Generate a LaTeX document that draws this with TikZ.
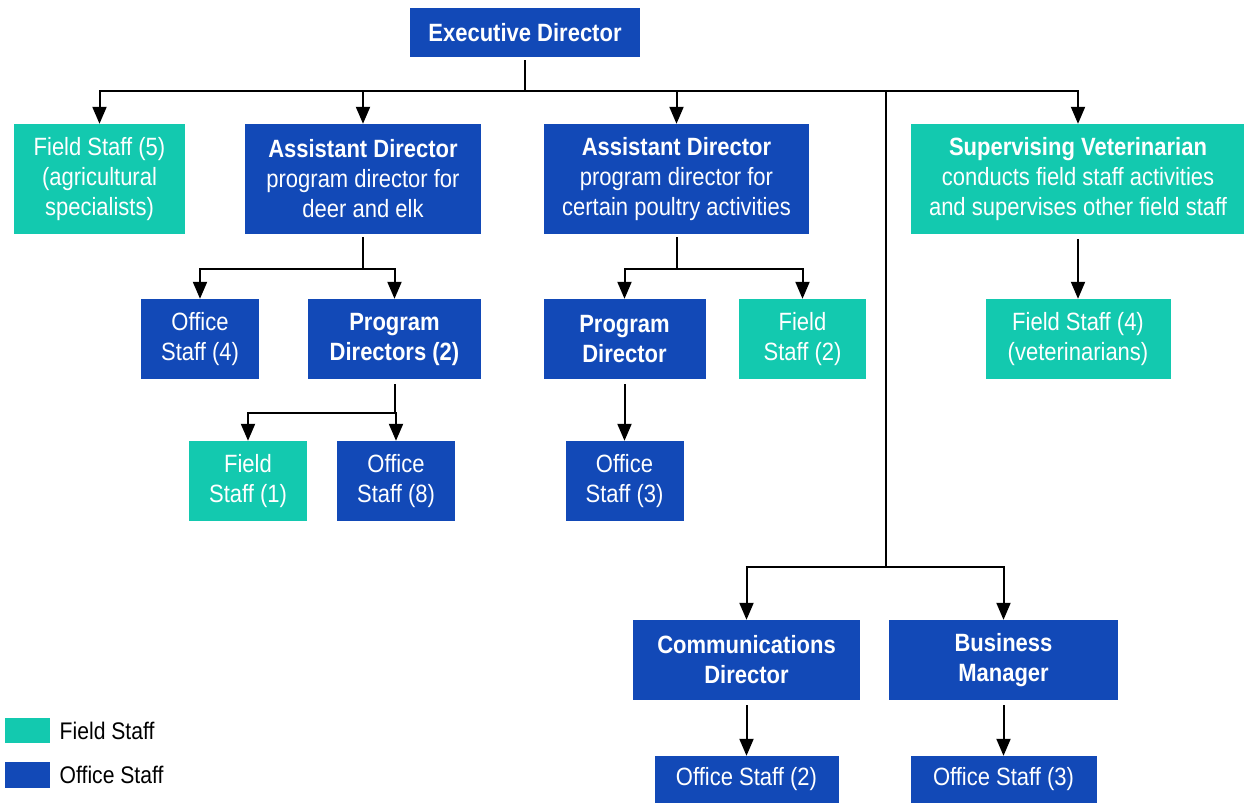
\documentclass[tikz,border=0pt]{standalone}
\usepackage{fontspec}
\setmainfont{Liberation Sans}[FakeStretch=0.88]
\usepackage{tikz}
\usetikzlibrary{positioning, arrows.meta, calc}

\definecolor{officeblue}{RGB}{18,73,183}
\definecolor{fieldteal}{RGB}{19,201,175}

\begin{document}
\begin{tikzpicture}[
    x=1pt, y=-1pt,
    % Office staff boxes (dark blue)
    officebox/.style={
        fill=officeblue,
        text=white,
        align=center,
        font=\fontsize{25}{30}\selectfont,
        inner sep=0pt,
        rectangle
    },
    % Field staff boxes (teal)
    fieldbox/.style={
        officebox,
        fill=fieldteal
    },
    % Plain connector lines
    link/.style={
        draw=black,
        line width=2pt
    },
    % Connector with a filled arrow tip
    arrow/.style={
        link,
        -{Triangle[width=14pt,length=17pt]}
    },
    legendtext/.style={
        font=\fontsize{24}{28}\selectfont,
        anchor=west
    }
]
\useasboundingbox (0,0) rectangle (1244,803);

% --- LEVEL 0: Executive Director ---
\node[officebox, minimum width=230, minimum height=49] (exec) at (525,32.5)
    {\textbf{Executive Director}};

% --- LEVEL 1 ---
\node[fieldbox, minimum width=171, minimum height=110] (fs5) at (99.5,179)
    {Field Staff (5)\\(agricultural\\specialists)};
\node[officebox, minimum width=236, minimum height=110] (addeer) at (363,179)
    {\textbf{Assistant Director}\\program director for\\deer and elk};
\node[officebox, minimum width=265, minimum height=110] (adpoultry) at (676.5,179)
    {\textbf{Assistant Director}\\program director for\\certain poultry activities};
\node[fieldbox, minimum width=334, minimum height=110] (vet) at (1078,179)
    {\textbf{Supervising Veterinarian}\\conducts field staff activities\\and supervises other field staff};

% --- LEVEL 2 ---
\node[officebox, minimum width=118, minimum height=80] (os4) at (200,339)
    {Office\\Staff (4)};
\node[officebox, minimum width=173, minimum height=80] (pd2) at (394.5,339)
    {\textbf{Program}\\\textbf{Directors (2)}};
\node[officebox, minimum width=162, minimum height=80] (pd) at (624.5,339)
    {\textbf{Program}\\\textbf{Director}};
\node[fieldbox, minimum width=127, minimum height=80] (fs2) at (802.5,339)
    {Field\\Staff (2)};
\node[fieldbox, minimum width=185, minimum height=80] (fs4) at (1078,339)
    {Field Staff (4)\\(veterinarians)};

% --- LEVEL 3 ---
\node[fieldbox, minimum width=118, minimum height=80] (fs1) at (248,481)
    {Field\\Staff (1)};
\node[officebox, minimum width=118, minimum height=80] (os8) at (396,481)
    {Office\\Staff (8)};
\node[officebox, minimum width=118, minimum height=80] (os3) at (624.5,481)
    {Office\\Staff (3)};

% --- Lower branch ---
\node[officebox, minimum width=227, minimum height=80] (comm) at (746.5,660)
    {\textbf{Communications}\\\textbf{Director}};
\node[officebox, minimum width=229, minimum height=80] (biz) at (1003.5,660)
    {\textbf{Business}\\\textbf{Manager}};
\node[officebox, minimum width=184, minimum height=47] (osc) at (746.5,779.5)
    {Office Staff (2)};
\node[officebox, minimum width=186, minimum height=47] (osb) at (1003.5,779.5)
    {Office Staff (3)};

% --- Legend ---
\node[fill=fieldteal, minimum width=45, minimum height=25, inner sep=0pt] (keyfield) at (27.5,730.5) {};
\node[legendtext, right=6pt of keyfield] (keyfieldtext) {Field Staff};
\node[fill=officeblue, minimum width=45, minimum height=26, inner sep=0pt] (keyoffice) at (27.5,775) {};
\node[legendtext, right=6pt of keyoffice] (keyofficetext) {Office Staff};

% Top bus from the Executive Director
\coordinate (topbus) at (525,91);
\coordinate (spine) at (886,91);
\coordinate (lowbus) at (886,567);
\draw[link, shorten <=3pt] (exec.south) -- (topbus);
\draw[arrow] (topbus) -| (fs5.north);
\draw[arrow] (topbus) -| (addeer.north);
\draw[arrow] (topbus) -| (adpoultry.north);
\draw[arrow] (topbus) -| (vet.north);
\draw[link] (spine) -- (lowbus);
\draw[arrow] (lowbus) -| (comm.north);
\draw[arrow] (lowbus) -| (biz.north);

% Deer and elk branch
\path (addeer.south) ++(0,35) coordinate (deerfork);
\draw[link, shorten <=3pt] (addeer.south) -- (deerfork);
\draw[arrow] (deerfork) -| (os4.north);
\draw[arrow] (deerfork) -| (pd2.north);

\path (pd2.south) ++(0,34) coordinate (pdfork);
\draw[link, shorten <=5pt] (pd2.south) -- (pdfork);
\draw[arrow] (pdfork) -| (fs1.north);
\draw[arrow] (pdfork) -| (os8.north);

% Poultry branch
\path (adpoultry.south) ++(0,35) coordinate (poultryfork);
\draw[link, shorten <=3pt] (adpoultry.south) -- (poultryfork);
\draw[arrow] (poultryfork) -| (pd.north);
\draw[arrow] (poultryfork) -| (fs2.north);
\draw[arrow, shorten <=5pt] (pd.south) -- (os3.north);

% Veterinarian, communications and business
\draw[arrow, shorten <=5pt] (vet.south) -- (fs4.north);
\draw[arrow, shorten <=5pt] (comm.south) -- (osc.north);
\draw[arrow, shorten <=5pt] (biz.south) -- (osb.north);

\end{tikzpicture}
\end{document}
